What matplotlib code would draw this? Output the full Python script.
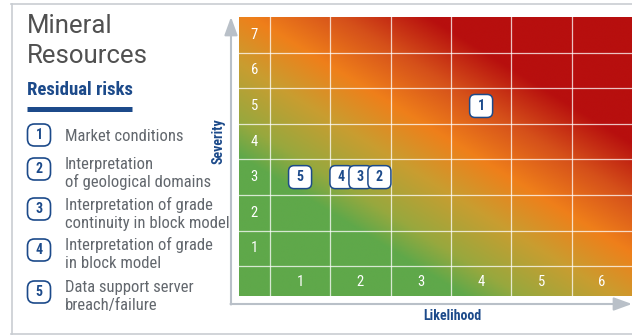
import matplotlib
matplotlib.use("Agg")
import matplotlib.pyplot as plt
import numpy as np
from matplotlib import transforms, font_manager
from matplotlib.colors import LinearSegmentedColormap
from matplotlib.lines import Line2D
from matplotlib.patches import FancyBboxPatch, FancyArrowPatch

# data
likelihood_ticks = [1, 2, 3, 4, 5, 6]
severity_ticks = [1, 2, 3, 4, 5, 6, 7]
risk_ids = [1, 2, 3, 4, 5]
risk_names = [
    "Market conditions",
    "Interpretation\nof geological domains",
    "Interpretation of grade\ncontinuity in block model",
    "Interpretation of grade\nin block model",
    "Data support server\nbreach/failure",
]
risk_likelihood = [4, 2, 2, 2, 1]
risk_severity = [5, 3, 3, 3, 3]

W, H = 632, 336
BLUE = "#1c4a8a"
GREY_TXT = "#62676d"

installed = {f.name for f in font_manager.fontManager.ttflist}
cond = next((n for n in ["Roboto Condensed", "Archivo Narrow", "PT Sans Narrow",
                         "Fira Sans Condensed", "Barlow Semi Condensed",
                         "Liberation Sans Narrow"] if n in installed), "DejaVu Sans")
NARROW = [cond, "DejaVu Sans"]
LIGHT = ["Roboto", "Liberation Sans", "DejaVu Sans"]


def fx(x):
    return x / W


def fy(y):
    return (H - y) / H


def inch(x, y):
    return (x / 100, (H - y) / 100)


fig = plt.figure(figsize=(W / 100, H / 100), dpi=100)

# outer frame
frame_kw = dict(color="#c9cdd2", lw=1.2, transform=fig.transFigure)
fig.add_artist(Line2D([fx(11), 1], [fy(3.5), fy(3.5)], **frame_kw))
fig.add_artist(Line2D([fx(11.5), fx(11.5)], [fy(3.5), fy(334)], **frame_kw))
fig.add_artist(Line2D([fx(11), 1], [fy(334), fy(334)], **frame_kw))

# heat map, diagonal colour ramp green -> orange -> red
ax = fig.add_axes([fx(239), fy(296), fx(632 - 239), (296 - 17) / H])
x0, x1, y0, y1 = -0.012, 6.5, -0.34, 7.5
xs = np.linspace(x0, x1, 500)
ys = np.linspace(y0, y1, 500)
X, Y = np.meshgrid(xs, ys)
U = X + 0.951 * Y
stops = [3.4, 4.35, 5.9, 7.33, 8.81, 10.28]
cols = ["#5fa84a", "#98a83e", "#c99d30", "#ef7f1a", "#d5501a", "#b70f0e"]
pos = [(s - stops[0]) / (stops[-1] - stops[0]) for s in stops]
cmap = LinearSegmentedColormap.from_list("risk", list(zip(pos, cols)))
ax.imshow(U, extent=(x0, x1, y0, y1), origin="lower", cmap=cmap,
          vmin=stops[0], vmax=stops[-1], aspect="auto", interpolation="bilinear")
ax.set_xlim(x0, x1)
ax.set_ylim(y0, y1)
ax.set_axis_off()

for v in np.arange(0.5, 6.0, 1.0):
    ax.axvline(v, color="white", lw=0.9, alpha=0.75)
for h in np.arange(0.5, 7.0, 1.0):
    ax.axhline(h, color="white", lw=0.9, alpha=0.75)

for s in severity_ticks:
    ax.text(0.24, s, str(s), color="white", ha="center", va="center",
            fontsize=10.5, family=NARROW)
for l in likelihood_ticks:
    ax.text(l, 0.05, str(l), color="white", ha="center", va="center",
            fontsize=10.5, family=NARROW)

# risk markers, spread where several share a cell
step = 0.19
box = 0.23
marks = []
for rid, l, s in zip(risk_ids, risk_likelihood, risk_severity):
    group = sorted([r for r, ll, ss in zip(risk_ids, risk_likelihood, risk_severity)
                    if ll == l and ss == s], reverse=True)
    k = group.index(rid)
    dx = (k - (len(group) - 1) / 2) * step
    marks.append((dx, rid, l, s))

for z, (dx, rid, l, s) in enumerate(sorted(marks)):
    trans = fig.dpi_scale_trans + transforms.ScaledTranslation(l, s, ax.transData)
    p = FancyBboxPatch((dx - box / 2, -box / 2), box, box,
                       boxstyle="round,pad=0,rounding_size=0.055",
                       fc="white", ec=BLUE, lw=1.1, transform=trans, zorder=5 + z)
    ax.add_artist(p)
    ax.text(dx, 0, str(rid), transform=trans, ha="center", va="center",
            fontsize=10, fontweight="bold", color=BLUE, family=NARROW,
            zorder=5 + z)

# axis arrows
arrow_kw = dict(arrowstyle="-|>,head_length=0.55,head_width=0.2",
                mutation_scale=20, color="#b9c0c8", lw=1.5,
                shrinkA=0, shrinkB=0, transform=fig.dpi_scale_trans)
fig.add_artist(FancyArrowPatch(inch(231, 304.5), inch(231, 17), **arrow_kw))
fig.add_artist(FancyArrowPatch(inch(230.5, 304), inch(632, 304), **arrow_kw))

fig.text(fx(219), fy(141), "Severity", rotation=90, ha="center", va="center",
         fontsize=10, fontweight="bold", color=BLUE, family=NARROW)
fig.text(fx(452), fy(316.5), "Likelihood", ha="center", va="center",
         fontsize=10, fontweight="bold", color=BLUE, family=NARROW)

# left panel
fig.text(fx(27), fy(33), "Mineral", ha="left", va="baseline", fontsize=18.5,
         color="#505050", family=LIGHT)
fig.text(fx(27), fy(63), "Resources", ha="left", va="baseline", fontsize=18.5,
         color="#505050", family=LIGHT)
fig.text(fx(27), fy(95), "Residual risks", ha="left", va="baseline",
         fontsize=13.5, fontweight="bold", color=BLUE, family=NARROW)
fig.add_artist(Line2D([fx(27), fx(132)], [fy(108.5), fy(108.5)], color=BLUE,
                      lw=3.6, solid_capstyle="butt", transform=fig.transFigure))

box_y = [135, 169, 209, 250, 292]
first_base = [141, 169, 210, 250, 292]
for rid, name, by, b0 in zip(risk_ids, risk_names, box_y, first_base):
    bx, byy = inch(39, by)
    fig.add_artist(FancyBboxPatch((bx - 0.115, byy - 0.11), 0.23, 0.22,
                                  boxstyle="round,pad=0,rounding_size=0.07",
                                  fc="white", ec=BLUE, lw=1.2,
                                  transform=fig.dpi_scale_trans))
    fig.text(fx(39), fy(by), str(rid), ha="center", va="center", fontsize=10,
             fontweight="bold", color=BLUE, family=NARROW)
    for i, line in enumerate(name.split("\n")):
        fig.text(fx(65), fy(b0 + 18 * i), line, ha="left", va="baseline",
                 fontsize=12, color=GREY_TXT, family=NARROW)

fig.savefig("out.png", dpi=100)
